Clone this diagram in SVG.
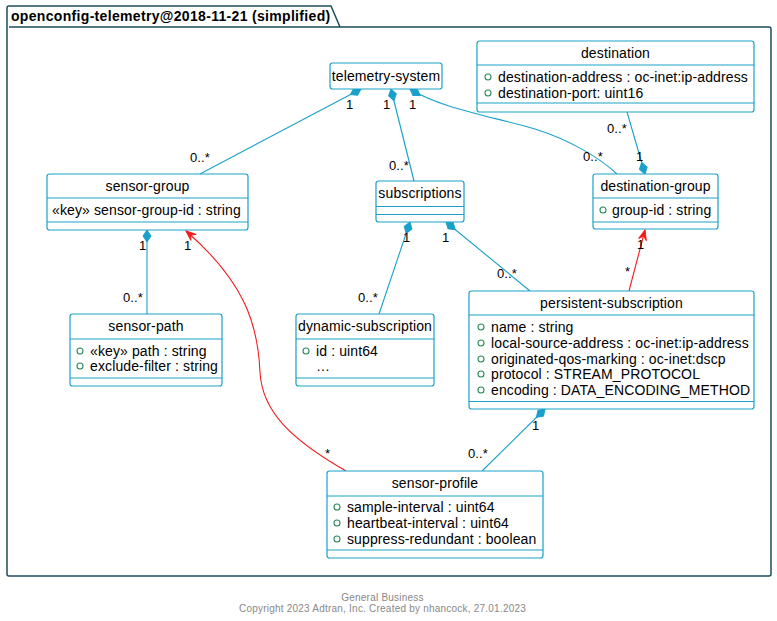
<svg xmlns="http://www.w3.org/2000/svg" width="777" height="621" viewBox="0 0 777 621">
<style>
text{font-family:"Liberation Sans",Arial,sans-serif;fill:#000}
.t{font-size:14px;text-anchor:middle;letter-spacing:0.12px}
.a{font-size:14px;letter-spacing:0.12px}
.m{font-size:13px;letter-spacing:0.1px}
.box{fill:#fff;stroke:#1aa1c9;stroke-width:1.2}
.sep{stroke:#1aa1c9;stroke-width:1.2}
.vis{fill:none;stroke:#2a8a5a;stroke-width:1.1}
.ln{fill:none;stroke:#1aa1c9;stroke-width:1.1}
.rd{fill:none;stroke:#f01d1d;stroke-width:1.1}
.ft{font-size:10px;fill:#888;text-anchor:middle;letter-spacing:0.22px}
</style>
<defs>
<marker id="dia" markerUnits="userSpaceOnUse" orient="auto" refX="0" refY="0" overflow="visible">
<path d="M0,0 L6,-4 L12,0 L6,4 Z" fill="#1aa1c9" stroke="#1aa1c9" stroke-width="1"/>
</marker>
<marker id="arr" markerUnits="userSpaceOnUse" orient="auto" refX="0" refY="0" overflow="visible">
<path d="M0,0 L-10,-4 L-6,0 L-10,4 Z" fill="#f01d1d" stroke="#f01d1d" stroke-width="1"/>
</marker>
</defs>
<rect width="777" height="621" fill="#fff"/>
<g id="package">
<path d="M9,27 L769,27 Q771,27 771,29 L771,574 Q771,576 769,576 L9,576 Q7,576 7,574 L7,8 Q7,6 9,6 L331,6 L340,27" fill="none" stroke="#1d4d5e" stroke-width="1.5"/>
<text x="11" y="21" style="font-size:14px;font-weight:bold;letter-spacing:0.32px">openconfig-telemetry@2018-11-21 (simplified)</text>
</g>
<g id="connectors">
<path class="ln" d="M361,89 L200,174" marker-start="url(#dia)"/>
<path class="ln" d="M391,89 L414,181" marker-start="url(#dia)"/>
<path class="ln" d="M410,89 C440,108 490,116 535,129 C570,140 600,158 617,174" marker-start="url(#dia)"/>
<path class="ln" d="M645,174 L627,112" marker-start="url(#dia)"/>
<path class="ln" d="M410,222 L379,314" marker-start="url(#dia)"/>
<path class="ln" d="M446,222 L530,291" marker-start="url(#dia)"/>
<path class="ln" d="M545,409 L482,471" marker-start="url(#dia)"/>
<path class="ln" d="M147,230 L147,314" marker-start="url(#dia)"/>
<path class="rd" d="M346,471 C292,440 262,412 260,372 C258,325 245,282 186,231" marker-end="url(#arr)"/>
<path class="rd" d="M629,291 L645,230" marker-end="url(#arr)"/>
<text class="m" x="346" y="109">1</text>
<text class="m" x="190" y="162">0..*</text>
<text class="m" x="383" y="109">1</text>
<text class="m" x="389" y="170">0..*</text>
<text class="m" x="409" y="109">1</text>
<text class="m" x="583" y="161">0..*</text>
<text class="m" x="607" y="133">0..*</text>
<text class="m" x="636" y="161">1</text>
<text class="m" x="403" y="242">1</text>
<text class="m" x="358" y="302">0..*</text>
<text class="m" x="442" y="242">1</text>
<text class="m" x="497" y="278">0..*</text>
<text class="m" x="532" y="430">1</text>
<text class="m" x="468" y="458">0..*</text>
<text class="m" x="325" y="458">*</text>
<text class="m" x="184" y="250">1</text>
<text class="m" x="637" y="249">1</text>
<text class="m" x="625" y="276">*</text>
<text class="m" x="139" y="250">1</text>
<text class="m" x="123" y="302">0..*</text>
</g>
<g id="telemetry-system">
<rect class="box" x="330" y="63" width="112" height="26" rx="2.5"/>
<text class="t" x="386" y="81">telemetry-system</text>
</g>
<g id="destination">
<rect class="box" x="477" y="41" width="277" height="71" rx="2.5"/>
<line class="sep" x1="477" y1="65" x2="754" y2="65"/>
<line class="sep" x1="477" y1="103" x2="754" y2="103"/>
<text class="t" x="615.5" y="58">destination</text>
<circle class="vis" cx="488" cy="77" r="3"/>
<text class="a" x="498" y="82">destination-address : oc-inet:ip-address</text>
<circle class="vis" cx="488" cy="93" r="3"/>
<text class="a" x="498" y="98">destination-port: uint16</text>
</g>
<g id="destination-group">
<rect class="box" x="593" y="174" width="125" height="55" rx="2.5"/>
<line class="sep" x1="593" y1="198" x2="718" y2="198"/>
<line class="sep" x1="593" y1="222" x2="718" y2="222"/>
<text class="t" x="655.5" y="191">destination-group</text>
<circle class="vis" cx="603" cy="210" r="3"/>
<text class="a" x="612" y="215">group-id : string</text>
</g>
<g id="sensor-group">
<rect class="box" x="47" y="174" width="201" height="56" rx="2.5"/>
<line class="sep" x1="47" y1="198" x2="248" y2="198"/>
<line class="sep" x1="47" y1="222" x2="248" y2="222"/>
<text class="t" x="147.5" y="191">sensor-group</text>
<text class="a" x="52" y="215">«key» sensor-group-id : string</text>
</g>
<g id="sensor-path">
<rect class="box" x="70" y="314" width="152" height="72" rx="2.5"/>
<line class="sep" x1="70" y1="339" x2="222" y2="339"/>
<line class="sep" x1="70" y1="378" x2="222" y2="378"/>
<text class="t" x="146" y="331">sensor-path</text>
<circle class="vis" cx="80" cy="351" r="3"/>
<text class="a" x="90" y="356">«key» path : string</text>
<circle class="vis" cx="80" cy="366" r="3"/>
<text class="a" x="90" y="371">exclude-filter : string</text>
</g>
<g id="subscriptions">
<rect class="box" x="376" y="181" width="88" height="41" rx="2.5"/>
<line class="sep" x1="376" y1="206.5" x2="464" y2="206.5"/>
<line class="sep" x1="376" y1="214.5" x2="464" y2="214.5"/>
<text class="t" x="420" y="198">subscriptions</text>
</g>
<g id="dynamic-subscription">
<rect class="box" x="296" y="314" width="138" height="72" rx="2.5"/>
<line class="sep" x1="296" y1="339" x2="434" y2="339"/>
<line class="sep" x1="296" y1="378" x2="434" y2="378"/>
<text class="t" x="365" y="331">dynamic-subscription</text>
<circle class="vis" cx="306" cy="351" r="3"/>
<text class="a" x="316" y="356">id : uint64</text>
<text class="a" x="316" y="371">…</text>
</g>
<g id="persistent-subscription">
<rect class="box" x="469" y="291" width="285" height="118" rx="2.5"/>
<line class="sep" x1="469" y1="315" x2="754" y2="315"/>
<line class="sep" x1="469" y1="401.5" x2="754" y2="401.5"/>
<text class="t" x="611.5" y="308">persistent-subscription</text>
<circle class="vis" cx="481" cy="327" r="3"/>
<text class="a" x="491" y="332">name : string</text>
<circle class="vis" cx="481" cy="343" r="3"/>
<text class="a" x="491" y="348">local-source-address : oc-inet:ip-address</text>
<circle class="vis" cx="481" cy="359" r="3"/>
<text class="a" x="491" y="364">originated-qos-marking : oc-inet:dscp</text>
<circle class="vis" cx="481" cy="374" r="3"/>
<text class="a" x="491" y="379">protocol : STREAM_PROTOCOL</text>
<circle class="vis" cx="481" cy="390" r="3"/>
<text class="a" x="491" y="395">encoding : DATA_ENCODING_METHOD</text>
</g>
<g id="sensor-profile">
<rect class="box" x="327" y="471" width="216" height="87" rx="2.5"/>
<line class="sep" x1="327" y1="496" x2="543" y2="496"/>
<line class="sep" x1="327" y1="550" x2="543" y2="550"/>
<text class="t" x="435" y="488">sensor-profile</text>
<circle class="vis" cx="337" cy="507" r="3"/>
<text class="a" x="347" y="512">sample-interval : uint64</text>
<circle class="vis" cx="337" cy="523" r="3"/>
<text class="a" x="347" y="528">heartbeat-interval : uint64</text>
<circle class="vis" cx="337" cy="539" r="3"/>
<text class="a" x="347" y="544">suppress-redundant : boolean</text>
</g>
<g id="footer">
<text class="ft" x="382.5" y="601">General Business</text>
<text class="ft" x="382.5" y="612">Copyright 2023 Adtran, Inc. Created by nhancock, 27.01.2023</text>
</g>
</svg>
